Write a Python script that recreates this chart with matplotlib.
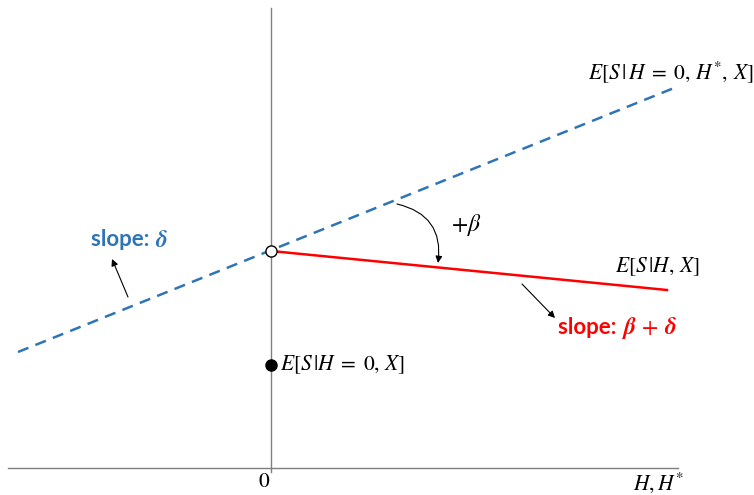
import matplotlib
matplotlib.use("Agg")
import matplotlib.pyplot as plt
import numpy as np

plt.rcParams['mathtext.fontset'] = 'stix'

# Data (diagram units: x relative to origin, y above horizontal axis)
blue_x = [-253, 408]
blue_y = [116, 382]
red_x = [0, 396]
red_y = [217, 178]
open_pt = (0, 217)
filled_pt = (0, 103)

BLUE = '#2E75B6'
RED = '#FF0000'
GRAY = '#7F7F7F'

fig = plt.figure(figsize=(7.54, 4.95), dpi=100)
ax = fig.add_axes([0, 0, 1, 1])
ax.set_xlim(-271, 483)
ax.set_ylim(-27, 468)
ax.axis('off')

# axes lines
ax.plot([-263, 407], [0, 0], color=GRAY, lw=1.0)
ax.plot([0, 0], [-4, 460], color=GRAY, lw=1.0)

# lines
ax.plot(blue_x, blue_y, color=BLUE, lw=1.8, ls=(0, (4.5, 3)))
ax.plot(red_x, red_y, color=RED, lw=1.8)

ax.plot(*open_pt, 'o', ms=8, mfc='white', mec='black', mew=1.0, zorder=5)
ax.plot(*filled_pt, 'o', ms=8, mfc='black', mec='black', zorder=5)

fs = 15.5
ax.text(317, 396, r'$E[S\,|\,H\;=\;0,\,H^{*},\,X]$', fontsize=fs, ha='left', va='center')
ax.text(344, 201, r'$E[S\,|H,\,X]$', fontsize=fs, ha='left', va='center')
ax.text(9, 103, r'$E[S\,|H\;=\;0,\,X]$', fontsize=fs, ha='left', va='center')
ax.text(-7, -13, r'$0$', fontsize=fs, ha='center', va='center')
ax.text(387, -15, r'$H,H^{*}$', fontsize=fs, ha='center', va='center')
ax.text(195, 243, r'$+\beta$', fontsize=17, ha='center', va='center')

ax.text(-116, 228, 'slope: ', fontsize=16, fontweight='bold', family='Lato',
        color=BLUE, ha='right', va='center')
ax.text(-116, 228, r'$\mathbfit{\delta}$', fontsize=17, color=BLUE, ha='left', va='center')

ax.text(351, 140, 'slope: ', fontsize=16, fontweight='bold', family='Lato',
        color=RED, ha='right', va='center')
ax.text(351, 140, r'$\mathbfit{\beta}\,+\,\mathbfit{\delta}$', fontsize=17, color=RED,
        ha='left', va='center')

# arrows
ax.annotate('', xy=(167, 205), xytext=(126, 264),
            arrowprops=dict(arrowstyle='-|>', color='black', lw=0.8,
                            connectionstyle='arc3,rad=-0.45', mutation_scale=10,
                            shrinkA=0, shrinkB=0))
ax.annotate('', xy=(-159, 209), xytext=(-143, 171),
            arrowprops=dict(arrowstyle='-|>', color='black', lw=0.8,
                            mutation_scale=10, shrinkA=0, shrinkB=0))
ax.annotate('', xy=(284, 150), xytext=(251, 184),
            arrowprops=dict(arrowstyle='-|>', color='black', lw=0.8,
                            mutation_scale=10, shrinkA=0, shrinkB=0))

fig.savefig('out.png', dpi=100)
